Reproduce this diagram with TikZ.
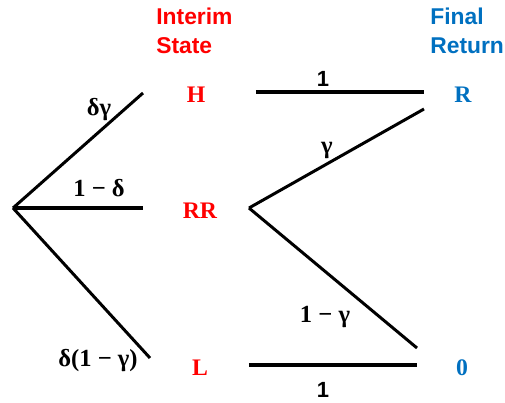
\documentclass[tikz,border=0pt]{standalone}
\usepackage{fontspec}
\setmainfont{Liberation Serif}
\setsansfont{Liberation Sans}
\usetikzlibrary{positioning}
\definecolor{stateRed}{HTML}{FF0000}
\definecolor{returnBlue}{HTML}{0070C0}

\begin{document}
\begin{tikzpicture}[
  x=0.02cm, y=-0.02cm,
  head/.style={inner sep=0pt, align=left, font=\sffamily\bfseries\fontsize{13}{16.5}\selectfont},
  state/.style={inner sep=0pt, text=stateRed, font=\bfseries\fontsize{13.5}{15}\selectfont},
  final/.style={inner sep=0pt, text=returnBlue, font=\bfseries\fontsize{13.5}{15}\selectfont},
  prob/.style={inner sep=0pt, font=\bfseries\fontsize{14}{15}\selectfont},
  one/.style={inner sep=0pt, font=\sffamily\bfseries\fontsize{12.5}{15}\selectfont},
  branch/.style={line width=1.7pt},
  flat/.style={line width=2.4pt},
]
\useasboundingbox (0,0) rectangle (505,403);

% column headings
\node[head, text=stateRed, anchor=north west] (headInterim) at (156,8) {Interim\\State};
\node[head, text=returnBlue, anchor=north west] (headFinal) at (430,8) {Final\\Return};

% states and returns
\node[state, anchor=base] (hState) at (196,102) {H};
\node[state, anchor=base] (rrState) at (200,218) {RR};
\node[state, anchor=base] (lState) at (200,375) {L};
\node[final, anchor=base] (rReturn) at (463,102) {R};
\node[final, anchor=base] (zeroReturn) at (462,375) {0};

% line ends
\coordinate (root) at (13,208);
\coordinate (hEnd) at (143,93);
\coordinate (rrEnd) at (143,208);
\coordinate (lEnd) at (150,358);
\coordinate (hOut) at (256,92);
\coordinate (rIn) at (424,92);
\coordinate (rrFork) at (249,208);
\coordinate (rUp) at (424,109);
\coordinate (zeroUp) at (417,348);
\coordinate (lOut) at (249,365);
\coordinate (zeroIn) at (417,365);

\draw[branch] (root) -- (hEnd);
\draw[flat] (root) -- (rrEnd);
\draw[branch] (root) -- (lEnd);
\draw[flat] (hOut) -- (rIn);
\draw[branch] (rrFork) -- (rUp);
\draw[branch] (rrFork) -- (zeroUp);
\draw[flat] (lOut) -- (zeroIn);

% probabilities
\node[prob, anchor=base] (pH) at (99,115) {δγ};
\node[prob, anchor=base] (pRR) at (99,196) {1 − δ};
\node[prob, anchor=base] (pL) at (98,366) {δ(1 − γ)};
\node[one, anchor=base] (pHR) at (323,86) {1};
\node[prob, anchor=base] (pUp) at (327,153) {γ};
\node[prob, anchor=base] (pDown) at (325,322) {1 − γ};
\node[one, anchor=base] (pLZ) at (323,397) {1};

\end{tikzpicture}
\end{document}
